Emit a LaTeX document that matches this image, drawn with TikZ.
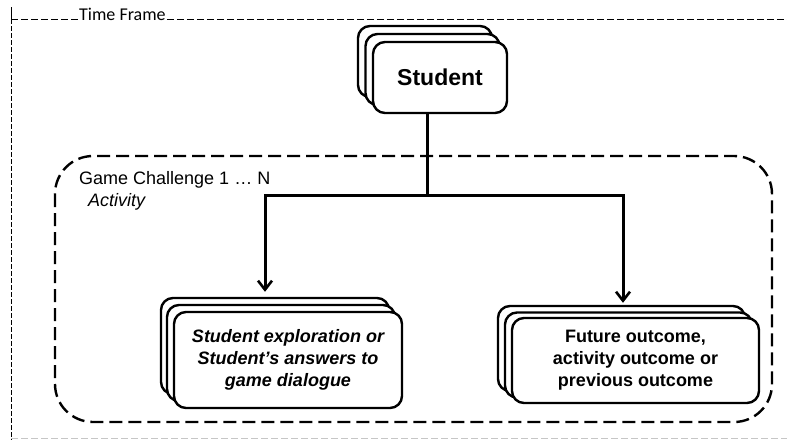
\documentclass[tikz,border=0pt]{standalone}
\usepackage{fontspec}
\setmainfont{Liberation Sans}
\newfontfamily\tfont{Carlito}
\usetikzlibrary{calc,arrows.meta}
\begin{document}
\begin{tikzpicture}[x=1pt,y=-1pt,
  stackbox/.style={draw=black, line width=2.4pt, fill=white, rounded corners=12pt, inner sep=0pt, align=center},
  conn/.style={line width=3pt},
  arr/.style={line width=3pt, -{Straight Barb[length=9pt,width=14pt,line width=2.6pt]}},
  framel/.style={line width=1pt, dash pattern=on 7pt off 3pt},
  gcbox/.style={line width=2.4pt, dash pattern=on 13pt off 6pt, rounded corners=38pt}]
\useasboundingbox (0,0) rectangle (787,440);
\fill[white] (0,0) rectangle (787,440);

% outer time frame
\node[font=\tfont\fontsize{18}{20}\selectfont, anchor=base west, inner sep=1pt] (tf) at (78,20) {Time Frame};
\draw[framel] (11,19) -- (tf.west |- 0,19);
\draw[framel] (tf.east |- 0,19) -- (787,19);
\draw[line width=1pt] (11,7) -- (11,19);
\draw[framel, dash pattern=on 5pt off 2pt] (11,19) -- (11,440);
\draw[line width=0.8pt, gray!45, dash pattern=on 7pt off 3pt] (11,438) -- (787,438);

% game challenge region
\draw[gcbox] (55,156) rectangle (772,422);
\node[anchor=west, inner sep=0pt, font=\fontsize{18}{22}\selectfont] (gc) at (79,180) {Game Challenge 1 \dots\ N};
\node[anchor=west, inner sep=0pt, font=\itshape\fontsize{18}{22}\selectfont] (act) at (88,202) {Activity};

% student stack
\node[stackbox, minimum width=134pt, minimum height=71pt] (st3) at (425,61.5) {};
\node[stackbox, minimum width=134pt, minimum height=71pt] (st2) at (432.5,69.5) {};
\node[stackbox, minimum width=134pt, minimum height=71pt, font=\bfseries\fontsize{23}{26}\selectfont] (st) at (440,77.5) {Student};

% left stack
\node[stackbox, minimum width=228pt, minimum height=96pt] (lb3) at (275,346) {};
\node[stackbox, minimum width=228pt, minimum height=96pt] (lb2) at (281,353) {};
\node[stackbox, minimum width=228pt, minimum height=96pt, font=\bfseries\itshape\fontsize{18}{22}\selectfont] (lb) at (288,360) {Student exploration or\\Student's answers to\\game dialogue};

% right stack
\node[stackbox, minimum width=247pt, minimum height=85pt] (rb3) at (621.5,348.5) {};
\node[stackbox, minimum width=247pt, minimum height=85pt] (rb2) at (628.5,355) {};
\node[stackbox, minimum width=247pt, minimum height=85pt, font=\bfseries\fontsize{18}{22}\selectfont] (rb) at (635.5,360.5) {Future outcome,\\activity outcome or\\previous outcome};

% connectors
\coordinate (j) at (427,195);
\coordinate (la) at (265,195);
\coordinate (ra) at (623,195);
\draw[conn] (st.south -| j) -- (j);
\draw[conn, line cap=rect] (la) -- (ra);
\draw[arr, shorten >=5pt] (la) -- (la |- lb3.north);
\draw[arr, shorten >=2pt] (ra) -- (ra |- rb3.north);
\end{tikzpicture}
\end{document}
